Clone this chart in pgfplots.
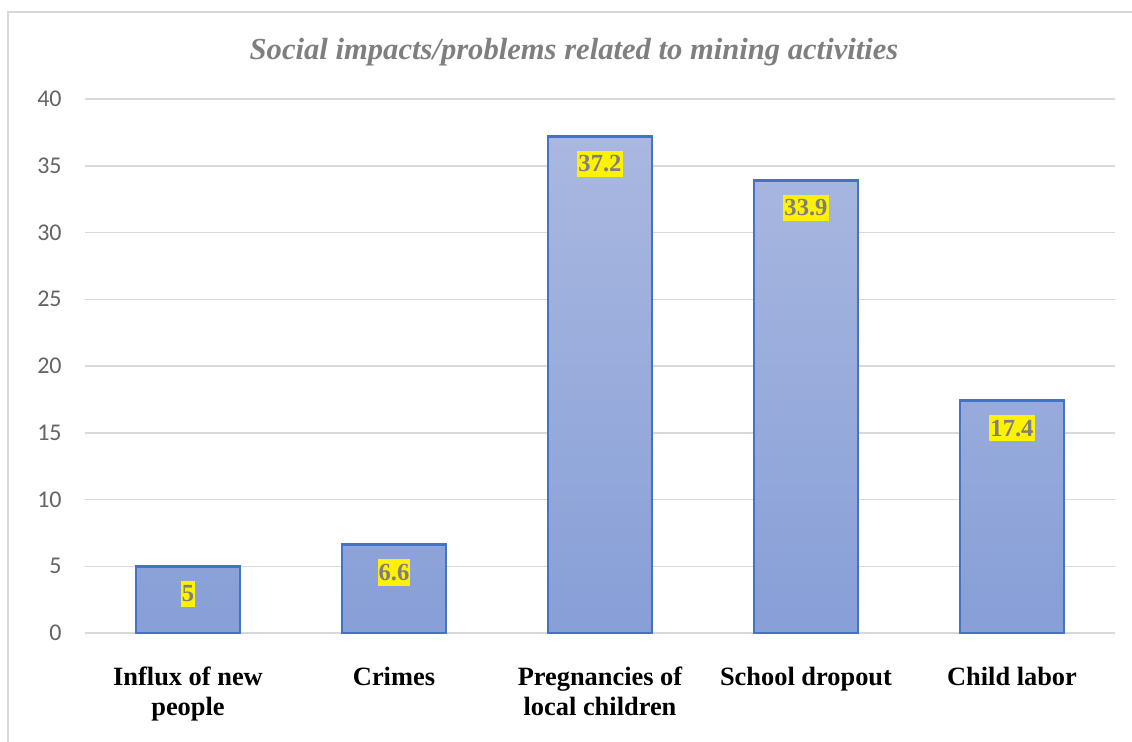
\documentclass[border=0pt]{standalone}
\usepackage{fontspec}
\setmainfont{Liberation Serif}
\newfontfamily\calibri{Carlito}
\usepackage{pgfplots}
\pgfplotsset{compat=1.18}

\definecolor{barTop}{RGB}{170,184,224}
\definecolor{barBottom}{RGB}{135,159,215}
\definecolor{barEdge}{RGB}{68,114,196}
\definecolor{gridGray}{RGB}{217,217,217}
\definecolor{tickGray}{RGB}{100,100,100}
\definecolor{titleGray}{RGB}{127,127,127}

\begin{document}
\begin{tikzpicture}[x=1pt,y=1pt]
\path[use as bounding box] (0,0) rectangle (566,370.5);
% chart frame
\draw[gridGray, line width=1pt] (4,-10) rectangle (580,364.5);
% title
\node[font=\fontsize{15.3}{17}\selectfont\bfseries\itshape, text=titleGray]
  at (287,344.5) {Social impacts/problems related to mining activities};
\begin{axis}[
  at={(42.5pt,54pt)}, anchor=south west,
  scale only axis, width=515pt, height=267pt,
  xmin=-0.5, xmax=4.5, ymin=0, ymax=40,
  ytick={0,5,...,40},
  xtick={0,1,2,3,4},
  xticklabels={{Influx of new\\people},Crimes,{Pregnancies of\\local children},School dropout,Child labor},
  axis line style={draw=none},
  major tick style={draw=none},
  ymajorgrids, grid style={gridGray, line width=0.75pt},
  /pgf/number format/assume math mode=true,
  yticklabel style={font=\calibri\fontsize{12}{14}\selectfont, text=tickGray,
    anchor=east, inner sep=0pt, xshift=-11.5pt},
  xticklabel style={font=\fontsize{13.2}{14.8}\selectfont\bfseries, text=black,
    align=center, anchor=north, inner sep=0pt, yshift=-12.5pt},
  ybar, bar width=52pt,
  nodes near coords,
  nodes near coords style={anchor=north, yshift=-6.5pt, fill=yellow,
    text=titleGray, font=\fontsize{12.3}{14}\selectfont\bfseries,
    inner xsep=0.5pt, inner ysep=2.4pt},
]
\addplot[draw=barEdge, line width=1.4pt, top color=barTop, bottom color=barBottom]
  coordinates {(0,5) (1,6.6) (2,37.2) (3,33.9) (4,17.4)};
\end{axis}
\end{tikzpicture}
\end{document}
